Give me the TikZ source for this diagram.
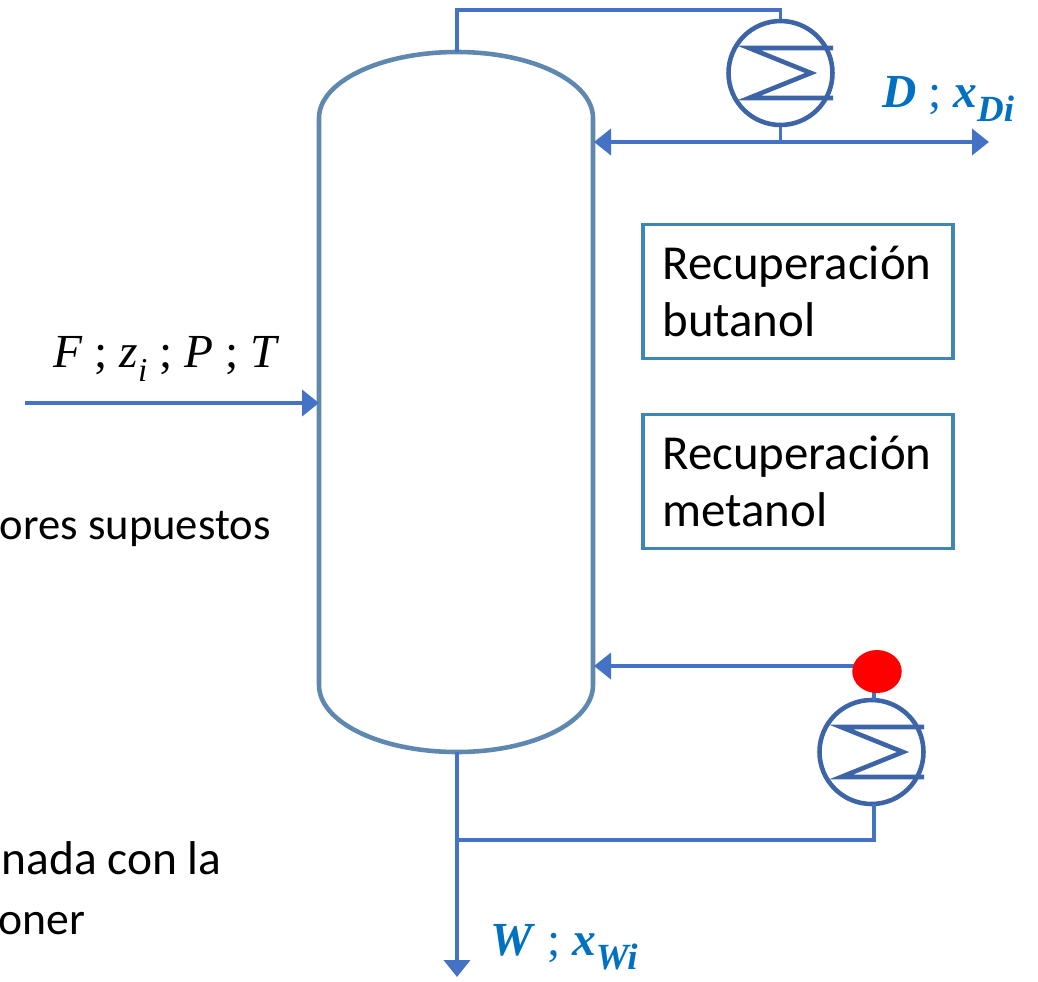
\documentclass[tikz,border=0pt]{standalone}
\usepackage{fontspec}
\setmainfont{Carlito}
\newfontfamily\mate{Liberation Serif}
\usetikzlibrary{arrows.meta}
\usetikzlibrary{shapes.geometric}
\definecolor{linea}{HTML}{4472C4}
\definecolor{torre}{HTML}{5F88B0}
\definecolor{equipo}{HTML}{3C64A6}
\definecolor{marco}{HTML}{3F87B2}
\definecolor{azul}{HTML}{0070C0}
\newcommand{\subind}[2][19]{\raisebox{-.3em}{\fontsize{#1}{#1}\selectfont #2}}
\tikzset{
corriente/.style = {draw=linea, line width=2.2pt},
flecha/.style = {corriente, -{Triangle[length=.34cm,width=.52cm,inset=0pt]}},
equipo/.style = {draw=equipo, line width=2.6pt, circle, minimum size=2.08cm, inner sep=0pt},
serpentin/.style = {draw=equipo, line width=2.6pt, line join=miter},
caja/.style = {draw=marco, line width=2pt, minimum width=6.2cm, minimum height=2.68cm, inner sep=0pt, text width=5.42cm, align=left, font=\fontsize{27.8}{32.4}\selectfont},
texto/.style = {inner sep=0pt, font=\fontsize{27}{32}\selectfont},
mates/.style = {inner sep=0pt, font=\mate\fontsize{27}{32}\selectfont},
}
\begin{document}
\begin{tikzpicture}[x=.02cm,y=-.02cm]
			\useasboundingbox (0,0) rectangle (1038,981);
			% columna
			\coordinate (cabeza) at (457,52);
			\coordinate (fondo) at (457,752);
			\coordinate (alim) at (319,403);
			\coordinate (retcond) at (594,142);
			\coordinate (retreb) at (594,666);
			\draw [draw=torre, line width=2.6pt] (319,118) .. controls (319,82) and (380,52) .. (cabeza) .. controls (533,52) and (593,82) .. (593,118) -- (593,685) .. controls (593,722) and (533,752) .. (fondo) .. controls (380,752) and (319,722) .. (319,685) -- cycle;
			% condensador
			\node [equipo] (cond) at (780.5,73) {};
			\coordinate (codo1) at (457,10);
			\coordinate (codo2) at (780.5,10);
			\coordinate (union1) at (780.5,142);
			\coordinate (destilado) at (989,142);
			\draw [corriente] (cabeza) -- (codo1) -- (codo2) -- (cond.north);
			\draw [corriente] (cond.south) -- (union1);
			\draw [flecha] (union1) -- (retcond);
			\draw [flecha] (union1) -- (destilado);
			\draw [serpentin] (833,48) -- (749,48) -- (811,73) -- (749,98) -- (833,98);
			% rehervidor
			\node [equipo] (reb) at (871.5,752) {};
			\coordinate (codo3) at (874,840);
			\coordinate (union2) at (457,840);
			\coordinate (salida) at (457,977);
			\coordinate (codo4) at (860,666);
			\coordinate (entrada) at (25,403);
			\draw [corriente] (874,680) -- (874,700);
			\draw [corriente] (874,804) -- (codo3) -- (union2);
			\draw [flecha] (codo4) -- (retreb);
			\draw [flecha] (fondo) -- (salida);
			\draw [flecha] (entrada) -- (alim);
			\draw [serpentin] (924,727) -- (841,727) -- (903,752) -- (841,777) -- (924,777);
			\node [fill=red, ellipse, minimum width=.99cm, minimum height=.86cm, inner sep=0pt] (punto) at (877,671.5) {};
			% cajas
			\node [caja] (butanol) at (798,291.5) {Recuperación\\butanol};
			\node [caja] (metanol) at (798,481.5) {Recuperación\\metanol};
			% textos
			\node [mates, anchor=base west] (lblF) at (53,367) {\textit{F} ; \textit{z}\subind{\textit{i}} ; \textit{P} ; \textit{T}};
			\node [mates, anchor=base west, text=azul] (lblD) at (882,107) {\textbf{\textit{D}} ; \textbf{\textit{x}\subind[21]{\textit{Di}}}};
			\node [mates, anchor=base west, text=azul] (lblW) at (490,955) {\textbf{\textit{W}} ; \textbf{\textit{x}\subind[21]{\textit{Wi}}}};
			\node [texto, anchor=base east, font=\fontsize{25.4}{32}\selectfont] (lbl1) at (271,539) {ores supuestos};
			\node [texto, anchor=base east] (lbl2) at (222,874) {nada con la};
			\node [texto, anchor=base east, font=\fontsize{26}{32}\selectfont] (lbl3) at (86,934) {oner};
		\end{tikzpicture}
\end{document}
